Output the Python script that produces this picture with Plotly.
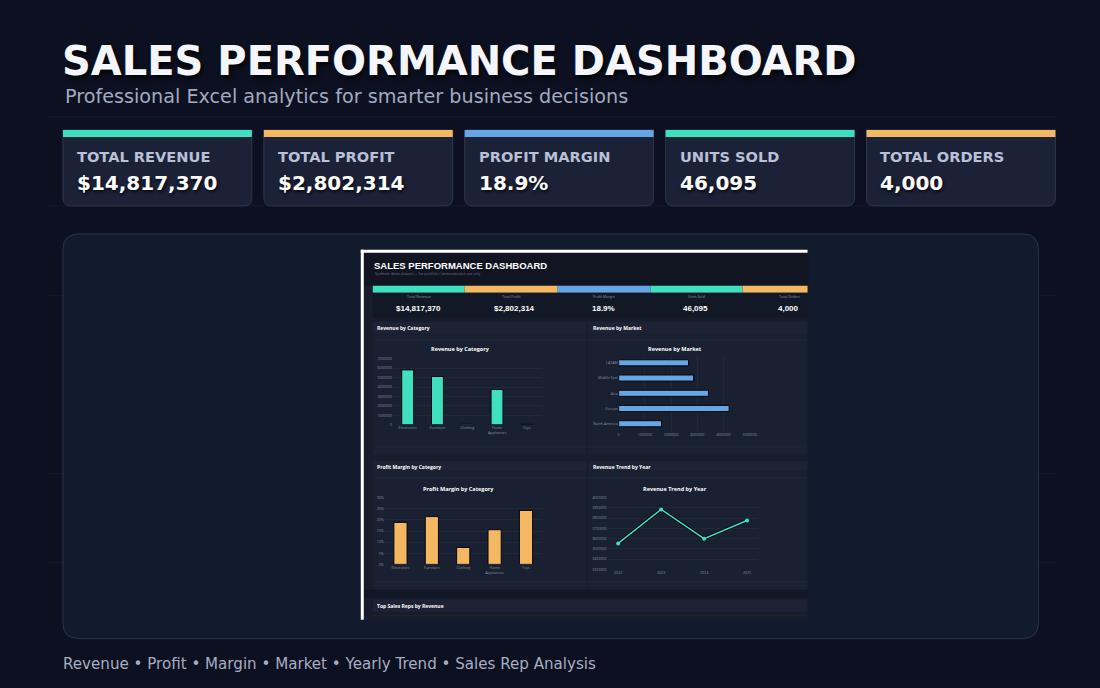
import plotly.graph_objects as go

W, H = 1100, 688
# the page photo comes out slightly shrunk; lay out in target pixels and undo that here
S, OY = 0.9933, 3.0

# ---- data ----
kpi_labels = ["TOTAL REVENUE", "TOTAL PROFIT", "PROFIT MARGIN", "UNITS SOLD", "TOTAL ORDERS"]
kpi_values = ["$14,817,370", "$2,802,314", "18.9%", "46,095", "4,000"]
inner_kpi_labels = ["Total Revenue", "Total Profit", "Profit Margin", "Units Sold", "Total Orders"]

categories = ["Electronics", "Furniture", "Clothing", "Home<br>Appliances", "Toys"]
category_revenue = [5820000, 5120000, 100000, 3730000, 47370]
category_margin = [18.9, 21.5, 7.6, 15.6, 24.3]

markets = ["LATAM", "Middle East", "Asia", "Europe", "North America"]
market_revenue = [2670000, 2860000, 3430000, 4220000, 1637370]

years = ["2022", "2023", "2024", "2025"]
year_revenue = [3554000, 3886000, 3600000, 3777370]

footer_items = ["Revenue", "Profit", "Margin", "Market", "Yearly Trend", "Sales Rep Analysis"]

# ---- colours ----
BG = "#0d1020"
TEAL = "#3fe0bf"
ORANGE = "#f4b862"
BLUE = "#66a6e6"
card_colors = [TEAL, ORANGE, BLUE, TEAL, ORANGE]

shapes = []
annots = []


def fx(x):
    return (x / S) / W


def fy(y):
    return 1 - ((y - OY) / S) / H


def rect(x0, y0, x1, y1, fill, line=None, lw=0):
    shapes.append(dict(type="rect", xref="paper", yref="paper", layer="below",
                       x0=fx(x0), x1=fx(x1), y0=fy(y1), y1=fy(y0),
                       fillcolor=fill, line=dict(color=line or fill, width=lw)))


def hline(y, x0, x1, color, w=1):
    shapes.append(dict(type="line", xref="paper", yref="paper", layer="below",
                       x0=fx(x0), x1=fx(x1), y0=fy(y), y1=fy(y),
                       line=dict(color=color, width=w)))


def rounded(x0, y0, x1, y1, r, fill, line, lw=1, top=True):
    rt = r if top else 0
    rb = r
    p = (f"M {fx(x0+rt)},{fy(y0)} L {fx(x1-rt)},{fy(y0)} Q {fx(x1)},{fy(y0)} {fx(x1)},{fy(y0+rt)} "
         f"L {fx(x1)},{fy(y1-rb)} Q {fx(x1)},{fy(y1)} {fx(x1-rb)},{fy(y1)} "
         f"L {fx(x0+rb)},{fy(y1)} Q {fx(x0)},{fy(y1)} {fx(x0)},{fy(y1-rb)} "
         f"L {fx(x0)},{fy(y0+rt)} Q {fx(x0)},{fy(y0)} {fx(x0+rt)},{fy(y0)} Z")
    shapes.append(dict(type="path", xref="paper", yref="paper", layer="below", path=p,
                       fillcolor=fill, line=dict(color=line, width=lw)))


def text(x, y, s, size, color, family="DejaVu Sans", weight="normal", xanchor="left", shadow=None):
    f = dict(size=size, color=color, family=family, weight=weight)
    if shadow:
        f["shadow"] = shadow
    annots.append(dict(xref="paper", yref="paper", x=fx(x), y=fy(y), text=s, showarrow=False,
                       xanchor=xanchor, yanchor="middle", font=f))


# ---- outer page ----
for yy in [117, 206, 296, 474, 563]:
    hline(yy, 47, 1055, "rgba(255,255,255,0.045)")

text(59, 61, "SALES PERFORMANCE DASHBOARD", 40, "#f4f6fb", weight="bold",
     shadow="2px 3px 4px rgba(0,0,0,0.75)")
text(62, 97, "Professional Excel analytics for smarter business decisions", 19.2, "#a3aac0")

card_x = [62, 263, 464, 665, 866]
for i, x0 in enumerate(card_x):
    rounded(x0, 130, x0 + 189, 206, 8, "#1b2136", "#2b3853", 1, top=False)
    rect(x0, 130, x0 + 189, 137, card_colors[i])
    text(x0 + 12, 157, kpi_labels[i], 14.6, "#b9c0d8", weight="bold")
    text(x0 + 12, 183, kpi_values[i], 20, "#ffffff", weight="bold",
         shadow="1px 2px 3px rgba(0,0,0,0.7)")

rounded(62, 234, 1038, 639, 16, "#121a2d", "#28344f", 1)

text(60, 664, " • ".join(footer_items), 15.1, "#a7aec2")

# ---- embedded dashboard screenshot ----
rect(360, 250, 808, 620, "#171d2b")
rect(363, 253, 808, 286, "#111522")
seg = [(372, 464), (464, 557), (557, 650), (650, 742), (742, 807)]
for i, (a, b) in enumerate(seg):
    rect(a, 286, b, 293, card_colors[i])
rect(372, 293, 807, 318, "#131826")
for (a, b) in [(372, 586), (588, 807)]:
    rect(a, 322, b, 334, "#1d2334")
    rect(a, 334, b, 456, "#182031")
    rect(a, 461, b, 472, "#1d2334")
    rect(a, 472, b, 590, "#182031")
rect(363, 590, 808, 598, "#121725")
rect(372, 600, 807, 612, "#1d2334")
for yy in [340, 447, 452, 478, 582, 586, 616]:
    hline(yy, 372, 807, "rgba(255,255,255,0.035)")
rect(360, 250, 363, 620, "#ffffff")
rect(360, 250, 807, 253, "#ffffff")

IF = "Open Sans"
text(371, 266, "SALES PERFORMANCE DASHBOARD", 9.5, "#ffffff", family="Liberation Sans", weight="bold")
text(372, 274, "Synthetic demo dataset — for portfolio / demonstration use only", 3.5, "#6d7588", family=IF)
lab_x = [418, 511, 603, 696, 789]
val_x = [418, 514, 603, 695, 788]
for i in range(5):
    text(lab_x[i], 297, inner_kpi_labels[i], 3.6, "#8f97aa", family=IF, xanchor="center")
    text(val_x[i], 309, kpi_values[i], 8, "#ffffff", family="Liberation Sans", weight="bold", xanchor="center")

text(374, 328, "Revenue by Category", 5, "#ffffff", family=IF, weight="bold")
text(590, 328, "Revenue by Market", 5, "#ffffff", family=IF, weight="bold")
text(374, 467, "Profit Margin by Category", 5, "#ffffff", family=IF, weight="bold")
text(590, 467, "Revenue Trend by Year", 5, "#ffffff", family=IF, weight="bold")
text(374, 606, "Top Sales Reps by Revenue", 5, "#ffffff", family=IF, weight="bold")

text(460, 349, "Revenue by Category", 5.5, "#ffffff", family=IF, weight="bold", xanchor="center")
text(674, 349, "Revenue by Market", 5.5, "#ffffff", family=IF, weight="bold", xanchor="center")
text(458, 489, "Profit Margin by Category", 5.5, "#ffffff", family=IF, weight="bold", xanchor="center")
text(674, 489, "Revenue Trend by Year", 5.5, "#ffffff", family=IF, weight="bold", xanchor="center")

fig = go.Figure()
edge = dict(color="#05070d", width=1)
fig.add_trace(go.Bar(x=categories, y=category_revenue, marker=dict(color=TEAL, line=edge),
                     width=0.4, xaxis="x", yaxis="y"))
fig.add_trace(go.Bar(x=market_revenue, y=markets, orientation="h", marker=dict(color=BLUE, line=edge),
                     width=0.4, xaxis="x2", yaxis="y2"))
fig.add_trace(go.Bar(x=categories, y=category_margin, marker=dict(color=ORANGE, line=edge),
                     width=0.42, xaxis="x3", yaxis="y3"))
fig.add_trace(go.Scatter(x=years, y=year_revenue, mode="lines", line=dict(color="#05070d", width=3.2),
                         xaxis="x4", yaxis="y4", hoverinfo="skip"))
fig.add_trace(go.Scatter(x=years, y=year_revenue, mode="lines+markers", line=dict(color=TEAL, width=1.4),
                         marker=dict(color=TEAL, size=4), xaxis="x4", yaxis="y4"))

tick = dict(size=3.6, color="#8a92a5", family=IF)
grid = "rgba(255,255,255,0.045)"
common = dict(tickfont=tick, showline=False, zeroline=False, ticks="", fixedrange=True)

fig.update_layout(
    width=W, height=H, margin=dict(l=0, r=0, t=0, b=0),
    paper_bgcolor=BG, plot_bgcolor="rgba(0,0,0,0)", showlegend=False,
    shapes=shapes, annotations=annots,
    xaxis=dict(domain=[fx(392), fx(541)], showgrid=False, anchor="y", **common),
    yaxis=dict(domain=[fy(425), fy(359)], range=[0, 7000000], dtick=1000000, tickformat="d",
               showgrid=True, gridcolor=grid, anchor="x", **common),
    xaxis2=dict(domain=[fx(618), fx(749)], range=[0, 5000000], dtick=1000000, tickformat="d",
                showgrid=True, gridcolor=grid, anchor="y2", **common),
    yaxis2=dict(domain=[fy(431.6), fy(355.4)], autorange="reversed", showgrid=False, anchor="x2", **common),
    xaxis3=dict(domain=[fx(384), fx(541)], showgrid=False, anchor="y3", **common),
    yaxis3=dict(domain=[fy(564.7), fy(498)], range=[0, 30], dtick=5, ticksuffix="%",
                showgrid=True, gridcolor=grid, anchor="x3", **common),
    xaxis4=dict(domain=[fx(607), fx(757)], type="category", showgrid=False, anchor="y4", **common),
    yaxis4=dict(domain=[fy(569.7), fy(498)], range=[3300000, 4000000], dtick=100000, tickformat="d",
                showgrid=True, gridcolor=grid, anchor="x4", **common),
)

page_css = ("var s=document.createElement('style');"
            "s.innerHTML='html,body{margin:0;padding:0;overflow:hidden;height:688px;background:#0d1020}';"
            "document.head.appendChild(s);")
fig.write_html("out.html", config={"displayModeBar": False}, post_script=page_css)
